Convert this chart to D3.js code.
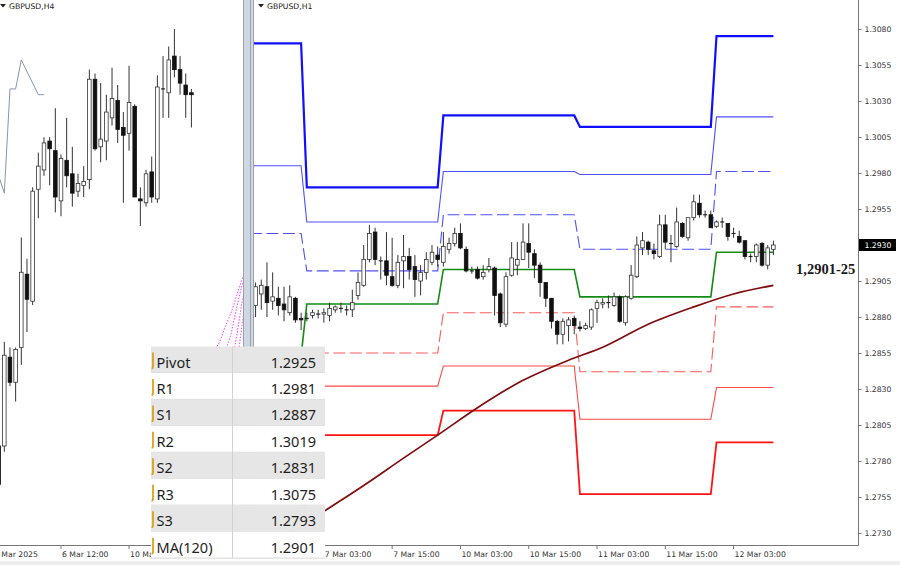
<!DOCTYPE html>
<html lang="en">
<head>
<meta charset="UTF-8">
<title>GBPUSD H4 / H1 pivots</title>
<script src="https://d3js.org/d3.v7.min.js"></script>
<style>
  body { margin: 0; background: #fff; }
  svg { display: block; font-family: "DejaVu Sans", sans-serif; }
</style>
</head>
<body>
<svg id="chart" width="900" height="565"></svg>
<script>
// ---------- H1 candles (right panel), first bar = index -9, index 0 = 7 Mar 00:00
const h1Start = -9;
const h1Open  = [1.2888,1.2896,1.2901,1.2891,1.2893,1.2889,1.2883,1.2893,1.2879,
  1.2879,1.2881,1.2882,1.2882,1.2881,1.2885,1.2886,1.2885,1.2885,1.2895,1.2902,1.2920,1.2939,1.2919,1.2919,1.2908,1.2902,1.2919,1.2922,1.2915,1.2905,1.2911,1.2918,1.2923,
  1.2918,1.2927,1.2931,1.2938,1.2927,1.2912,1.2913,1.2908,1.2913,1.2914,1.2896,1.2875,1.2909,1.2916,1.2920,1.2931,1.2924,1.2916,1.2904,1.2893,1.2877,1.2868,1.2874,1.2879,
  1.2873,1.2872,1.2873,1.2886,1.2889,1.2890,1.2888,1.2894,1.2876,1.2893,1.2908,1.2928,1.2932,1.2926,1.2922,1.2944,1.2931,1.2929,1.2945,1.2935,1.2949,1.2959,1.2951,1.2951,
  1.2943,1.2946,1.2945,1.2938,1.2936,1.2933,1.2922,1.2922,1.2931,1.2916,1.2927];
const h1High  = [1.2904,1.2906,1.2918,1.2911,1.2901,1.2901,1.2902,1.2894,1.2883,
  1.2883,1.2885,1.2885,1.2886,1.2890,1.2888,1.2890,1.2888,1.2899,1.2911,1.2930,1.2944,1.2942,1.2922,1.2939,1.2935,1.2923,1.2937,1.2928,1.2923,1.2916,1.2925,1.2930,1.2929,
  1.2939,1.2935,1.2942,1.2945,1.2929,1.2915,1.2915,1.2916,1.2921,1.2915,1.2897,1.2911,1.2932,1.2932,1.2945,1.2945,1.2927,1.2918,1.2904,1.2893,1.2878,1.2879,1.2880,1.2881,
  1.2877,1.2876,1.2886,1.2892,1.2893,1.2895,1.2897,1.2895,1.2895,1.2916,1.2936,1.2939,1.2933,1.2931,1.2951,1.2951,1.2937,1.2956,1.2946,1.2949,1.2965,1.2965,1.2954,1.2954,
  1.2947,1.2949,1.2945,1.2942,1.2940,1.2933,1.2924,1.2931,1.2932,1.2930,1.2933];
const h1Low   = [1.2880,1.2885,1.2880,1.2885,1.2881,1.2877,1.2881,1.2876,1.2871,
  1.2877,1.2879,1.2879,1.2876,1.2877,1.2883,1.2883,1.2881,1.2880,1.2892,1.2901,1.2918,1.2916,1.2906,1.2902,1.2901,1.2900,1.2900,1.2906,1.2894,1.2895,1.2906,1.2916,1.2915,
  1.2915,1.2924,1.2929,1.2927,1.2911,1.2910,1.2906,1.2906,1.2911,1.2881,1.2873,1.2873,1.2908,1.2909,1.2920,1.2914,1.2907,1.2894,1.2887,1.2872,1.2861,1.2861,1.2863,1.2868,
  1.2870,1.2871,1.2871,1.2876,1.2886,1.2886,1.2887,1.2876,1.2874,1.2892,1.2907,1.2923,1.2923,1.2920,1.2921,1.2927,1.2918,1.2928,1.2935,1.2933,1.2947,1.2949,1.2949,1.2942,
  1.2942,1.2942,1.2933,1.2935,1.2931,1.2920,1.2918,1.2918,1.2915,1.2913,1.2923];
const h1Close = [1.2901,1.2902,1.2890,1.2894,1.2888,1.2885,1.2894,1.2878,1.2878,
  1.2879,1.2883,1.2882,1.2883,1.2886,1.2887,1.2886,1.2885,1.2890,1.2904,1.2920,1.2938,1.2920,1.2919,1.2909,1.2902,1.2918,1.2922,1.2913,1.2906,1.2911,1.2920,1.2925,1.2920,
  1.2929,1.2931,1.2938,1.2928,1.2912,1.2912,1.2907,1.2911,1.2915,1.2895,1.2876,1.2908,1.2921,1.2920,1.2932,1.2925,1.2916,1.2904,1.2893,1.2877,1.2868,1.2877,1.2878,1.2874,
  1.2872,1.2874,1.2885,1.2890,1.2890,1.2890,1.2894,1.2877,1.2894,1.2909,1.2930,1.2933,1.2927,1.2924,1.2944,1.2932,1.2931,1.2946,1.2936,1.2949,1.2960,1.2951,1.2951,1.2942,
  1.2946,1.2946,1.2936,1.2938,1.2932,1.2922,1.2922,1.2930,1.2916,1.2928,1.2930];

// ---------- H4 candles (left panel), first bar = index -1, index 1 = 5 Mar 00:00
const h4Start = -1;
const h4Open  = [1.2748,1.2748,1.2794,1.2781,1.2799,1.2837,1.2823,1.2881,1.2891,1.2906,1.2901,1.2875,1.2896,1.2889,1.2880,1.2883,1.2886,1.2938,
  1.2903,1.2906,1.2918,1.2927,1.2913,1.2910,1.2924,1.2876,1.2874,1.2890,1.2876,1.2933,1.2931,1.2950,1.2943,1.2935,1.2931];
const h4High  = [1.2750,1.2802,1.2799,1.2799,1.2856,1.2845,1.2882,1.2900,1.2908,1.2908,1.2923,1.2899,1.2918,1.2903,1.2889,1.2893,1.2943,1.2941,
  1.2936,1.2930,1.2944,1.2935,1.2921,1.2945,1.2925,1.2882,1.2891,1.2898,1.2940,1.2950,1.2955,1.2964,1.2950,1.2941,1.2933];
const h4Low   = [1.2725,1.2745,1.2779,1.2771,1.2790,1.2807,1.2821,1.2866,1.2888,1.2883,1.2869,1.2867,1.2882,1.2872,1.2877,1.2877,1.2881,1.2901,
  1.2895,1.2896,1.2914,1.2905,1.2874,1.2901,1.2877,1.2862,1.2872,1.2874,1.2874,1.2918,1.2918,1.2939,1.2930,1.2918,1.2913];
const h4Close = [1.2728,1.2795,1.2781,1.2798,1.2838,1.2824,1.2880,1.2893,1.2905,1.2902,1.2877,1.2897,1.2888,1.2879,1.2884,1.2885,1.2938,1.2902,
  1.2907,1.2921,1.2928,1.2912,1.2909,1.2926,1.2877,1.2875,1.2889,1.2877,1.2934,1.2933,1.2948,1.2943,1.2936,1.2930,1.2930];

// H4 grey indicator line and magenta dotted fan (left panel)
const h4LineIdx = [-1, 0, 1, 2, 3, 6, 7];
const h4LineVal = [1.2888, 1.2879, 1.2933, 1.2933, 1.2948, 1.2930, 1.2930];
const fanIdx = [[37, 38, 39, 40, 41, 42, 43], [39, 40, 41, 42, 43], [40, 41, 42, 43], [41, 42, 43]];
const fanVal = [[1.2797, 1.2802, 1.2810, 1.2817, 1.2826, 1.2835, 1.2840],
                [1.2797, 1.2806, 1.2820, 1.2832, 1.2838],
                [1.2790, 1.2805, 1.2824, 1.2836],
                [1.2790, 1.2812, 1.2833]];

// ---------- daily pivot levels: 6, 7, 10, 11, 12 Mar
const dayStart = [-10, 0, 24, 48, 72];
const dayEnd   = [-1, 23, 47, 71, 82];
const r3 = [1.3070, 1.2970, 1.3020, 1.3012, 1.3075];
const r2 = [1.2985, 1.2946, 1.2981, 1.2979, 1.3019];
const r1 = [1.2938, 1.2912, 1.2951, 1.2927, 1.2981];
const pv = [1.2853, 1.2889, 1.2913, 1.2894, 1.2925];
const s1 = [1.2806, 1.2855, 1.2883, 1.2842, 1.2887];
const s2 = [1.2721, 1.2832, 1.2846, 1.2809, 1.2831];
const s3 = [1.2674, 1.2798, 1.2815, 1.2757, 1.2793];

// MA(120) read at these H1 bars
const maIdx = [-9, 3, 10, 17, 23, 30, 38, 46, 52, 60, 68, 75, 82];
const maVal = [1.2714, 1.2745, 1.2763, 1.2782, 1.2798, 1.2817, 1.2836, 1.2850, 1.2859, 1.2875, 1.2887, 1.2896, 1.2902];

// axis labels
const priceTicks = [1.3080, 1.3055, 1.3030, 1.3005, 1.2980, 1.2955, 1.2930, 1.2905, 1.2880, 1.2855, 1.2830, 1.2805, 1.2780, 1.2755, 1.2730];
const h1TimeIdx = [3, 15, 27, 39, 51, 63, 75];
const h1TimeLbl = ["7 Mar 03:00", "7 Mar 15:00", "10 Mar 03:00", "10 Mar 15:00", "11 Mar 03:00", "11 Mar 15:00", "12 Mar 03:00"];
const h4TimeIdx = [-2, 10, 22];
const h4TimeLbl = ["4 Mar 2025", "6 Mar 12:00", "10 Mar 12:00"];

// table
const tableNames  = ["Pivot", "R1", "S1", "R2", "S2", "R3", "S3", "MA(120)"];
const tableValues = ["1.2925", "1.2981", "1.2887", "1.3019", "1.2831", "1.3075", "1.2793", "1.2901"];
const zoneLabel = "1,2901-25";

// ---------- scales
const xR = d3.scaleLinear().domain([0, 72]).range([306.8, 716.5]);
const yR = d3.scaleLinear().domain([1.2730, 1.3080]).range([533, 29]);
const xL = d3.scaleLinear().domain([0, 33]).range([4.3, 191.4]);
const yL = d3.scaleLinear().domain([1.2700, 1.2980]).range([538.6, -1.8]);

const svg = d3.select("#chart");
const defs = svg.append("defs");
defs.append("clipPath").attr("id", "clipL").append("rect").attr("x", 0).attr("y", 0).attr("width", 244).attr("height", 545);
defs.append("clipPath").attr("id", "clipR").append("rect").attr("x", 254).attr("y", 0).attr("width", 604).attr("height", 545);

svg.append("rect").attr("width", 900).attr("height", 565).attr("fill", "#fff");

function drawCandles(g, start, O, H, L, C, x, y) {
  O.forEach((o, k) => {
    const cx = x(start + k), c = C[k];
    g.append("line").attr("x1", cx).attr("x2", cx).attr("y1", y(H[k])).attr("y2", y(L[k]))
      .attr("stroke", "#333").attr("stroke-width", 1);
    const top = y(Math.max(o, c)), bot = y(Math.min(o, c));
    if (bot - top < 1) {
      g.append("line").attr("x1", cx - 2).attr("x2", cx + 2).attr("y1", (top + bot) / 2).attr("y2", (top + bot) / 2)
        .attr("stroke", "#222").attr("stroke-width", 1.2);
    } else {
      g.append("rect").attr("x", cx - 1.8).attr("y", top).attr("width", 3.6).attr("height", bot - top)
        .attr("fill", c >= o ? "#fff" : "#111").attr("stroke", c >= o ? "#333" : "#111").attr("stroke-width", 0.8);
    }
  });
}

// ---------- left panel (H4)
const gL = svg.append("g").attr("clip-path", "url(#clipL)");
gL.append("path")
  .attr("d", d3.line().x((d, k) => xL(h4LineIdx[k])).y(d => yL(d))(h4LineVal))
  .attr("fill", "none").attr("stroke", "#8a96a8").attr("stroke-width", 1);
drawCandles(gL, h4Start, h4Open, h4High, h4Low, h4Close, xL, yL);
fanVal.forEach((vals, n) => {
  gL.append("path")
    .attr("d", d3.line().x((d, k) => xL(fanIdx[n][k])).y(d => yL(d))(vals))
    .attr("fill", "none").attr("stroke", "#ff3cff").attr("stroke-width", 1).attr("stroke-dasharray", "1.5,1.5");
});

// ---------- right panel (H1)
const gR = svg.append("g").attr("clip-path", "url(#clipR)");
const levelStyle = [
  { vals: r3, color: "#1010ff", width: 2.2, dash: null },
  { vals: r2, color: "#5050ff", width: 1.1, dash: null },
  { vals: r1, color: "#5050ff", width: 1.1, dash: "12,4.5" },
  { vals: pv, color: "#148c14", width: 1.6, dash: null },
  { vals: s1, color: "#ff5c5c", width: 1.1, dash: "12,4.5" },
  { vals: s2, color: "#ff4848", width: 1.1, dash: null },
  { vals: s3, color: "#ff1414", width: 1.8, dash: null }
];
const stepLine = d3.line().x(d => xR(d[0])).y(d => yR(d[1]));
levelStyle.forEach(ls => {
  const pts = ls.vals.flatMap((v, d) => [[dayStart[d], v], [dayEnd[d], v]]);
  gR.append("path").attr("d", stepLine(pts))
    .attr("fill", "none").attr("stroke", ls.color).attr("stroke-width", ls.width)
    .attr("stroke-dasharray", ls.dash);
});
gR.append("path")
  .attr("d", d3.line().curve(d3.curveMonotoneX).x((d, k) => xR(maIdx[k])).y(d => yR(d))(maVal))
  .attr("fill", "none").attr("stroke", "#800c0c").attr("stroke-width", 1.7);
drawCandles(gR, h1Start, h1Open, h1High, h1Low, h1Close, xR, yR);

// panel divider
svg.append("rect").attr("x", 243).attr("y", 0).attr("width", 11).attr("height", 545).attr("fill", "#cfd7e2");
[243.5, 250.5, 253.5].forEach(x => svg.append("line").attr("x1", x).attr("x2", x).attr("y1", 0).attr("y2", 545)
  .attr("stroke", "#9aa2ad").attr("stroke-width", 1));

// ---------- price axis
svg.append("line").attr("x1", 858.5).attr("x2", 858.5).attr("y1", 0).attr("y2", 545.5).attr("stroke", "#777");
const yAxis = svg.append("g").attr("transform", "translate(858.5,0)")
  .call(d3.axisRight(yR).tickValues(priceTicks).tickFormat(d3.format(".4f")).tickSize(3).tickPadding(3));
yAxis.select(".domain").remove();
yAxis.selectAll("line").attr("stroke", "#777");
yAxis.selectAll("text").attr("font-family", "DejaVu Sans").attr("font-size", 7.7).attr("fill", "#333");

const last = h1Close[h1Close.length - 1];
svg.append("rect").attr("x", 859).attr("y", yR(last) - 6).attr("width", 37).attr("height", 12).attr("fill", "#000");
svg.append("text").attr("x", 864.5).attr("y", yR(last) + 3).attr("font-size", 7.7).attr("fill", "#fff")
  .text(d3.format(".4f")(last));

// ---------- time axis
svg.append("line").attr("x1", 0).attr("x2", 858.5).attr("y1", 545.5).attr("y2", 545.5).attr("stroke", "#777");
function timeLabels(idx, lbl, x) {
  idx.forEach((i, k) => {
    const tx = x(i);
    svg.append("line").attr("x1", tx).attr("x2", tx).attr("y1", 545.5).attr("y2", 549).attr("stroke", "#777");
    svg.append("text").attr("x", tx + 1).attr("y", 557).attr("font-size", 7.7).attr("fill", "#333").text(lbl[k]);
  });
}
timeLabels(h4TimeIdx, h4TimeLbl, xL);
timeLabels(h1TimeIdx, h1TimeLbl, xR);
svg.append("rect").attr("x", 0).attr("y", 561).attr("width", 900).attr("height", 4).attr("fill", "#eeeeee");

// ---------- headers
[[0, "GBPUSD,H4"], [258, "GBPUSD,H1"]].forEach(([x0, t]) => {
  svg.append("path").attr("d", `M${x0},4 L${x0 + 6},4 L${x0 + 3},7.5 Z`).attr("fill", "#222");
  svg.append("text").attr("x", x0 + 9).attr("y", 9).attr("font-size", 7.7).attr("fill", "#222").text(t);
});

// zone label
svg.append("text").attr("x", 796).attr("y", 274)
  .attr("font-family", "Liberation Serif").attr("font-weight", "bold").attr("font-size", 14.5).attr("fill", "#1a1a1a")
  .text(zoneLabel);

// ---------- levels table
const tX = 151, tY = 346.5, rowH = 26.45, colX = 232.5, tW = 174;
const tbl = svg.append("g");
tableNames.forEach((name, k) => {
  const ry = tY + k * rowH;
  tbl.append("rect").attr("x", tX).attr("y", ry).attr("width", tW).attr("height", rowH)
    .attr("fill", k % 2 === 0 ? "#e6e6e6" : "#ffffff");
  tbl.append("line").attr("x1", tX).attr("x2", tX + tW).attr("y1", ry + rowH).attr("y2", ry + rowH)
    .attr("stroke", "#d6d6d6");
  tbl.append("path").attr("d", `M153,${ry + 6} L153,${ry + 20} Q153,${ry + 22} 151.5,${ry + 22}`)
    .attr("fill", "none").attr("stroke", "#d9a21d").attr("stroke-width", 1.8);
  tbl.append("text").attr("x", 156.5).attr("y", ry + 21).attr("font-family", "Noto Sans").attr("font-size", 14.5)
    .attr("fill", "#1e1e1e").text(name);
  tbl.append("text").attr("x", 316).attr("y", ry + 21).attr("text-anchor", "end").attr("font-family", "Noto Sans")
    .attr("font-size", 14.5).attr("fill", "#1e1e1e").text(tableValues[k]);
});
tbl.append("line").attr("x1", colX).attr("x2", colX).attr("y1", tY).attr("y2", tY + 8 * rowH).attr("stroke", "#d2d2d2");
</script>
</body>
</html>
